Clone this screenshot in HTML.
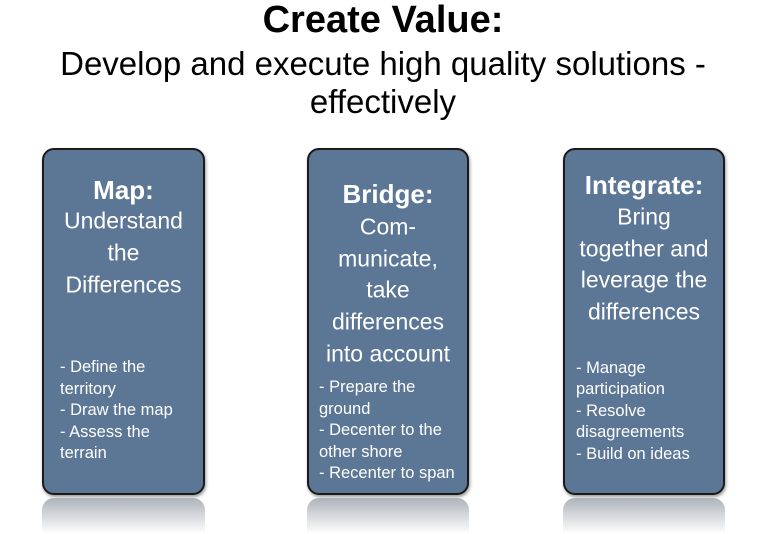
<!DOCTYPE html>
<html><head><style>
body{margin:0;width:766px;height:534px;background:#fff;position:relative;overflow:hidden;font-family:"Liberation Sans",sans-serif}
.t{position:absolute;left:0;width:766px;text-align:center;color:#000;white-space:nowrap}
.box{position:absolute;top:148px;height:347px;border:2px solid #1a1a1a;border-radius:12px;background:#5c7696;box-shadow:1px 2px 3px rgba(0,0,0,.4);box-sizing:border-box}
.ref{position:absolute;top:498px;height:36px;border-radius:12px 12px 0 0;background:linear-gradient(#aeb3ba,#fff)}
.l{position:absolute;color:#fff;white-space:nowrap;line-height:1}
.c{text-align:center;font-size:23px;transform:translateY(-50%)}
.h{font-weight:bold;font-size:26px}
.b{font-size:16.5px;transform:translateY(-50%)}
</style></head><body>
<div class="t" style="top:-1px;font-size:38px;font-weight:bold">Create Value:</div>
<div class="t" style="top:45px;font-size:33px">Develop and execute high quality solutions -</div>
<div class="t" style="top:83px;font-size:33px">effectively</div>

<div class="box" style="left:42px;width:163px"></div>
<div class="box" style="left:307px;width:162px"></div>
<div class="box" style="left:563px;width:162px"></div>
<div class="ref" style="left:42px;width:163px"></div>
<div class="ref" style="left:307px;width:162px"></div>
<div class="ref" style="left:563px;width:162px"></div>

<div class="l c h" style="left:42px;width:163px;top:190px">Map:</div>
<div class="l c" style="left:42px;width:163px;top:221px">Understand</div>
<div class="l c" style="left:42px;width:163px;top:253px">the</div>
<div class="l c" style="left:42px;width:163px;top:285px">Differences</div>
<div class="l b" style="left:60px;top:367px">- Define the</div>
<div class="l b" style="left:60px;top:389px">territory</div>
<div class="l b" style="left:60px;top:410px">- Draw the map</div>
<div class="l b" style="left:60px;top:432px">- Assess the</div>
<div class="l b" style="left:60px;top:453px">terrain</div>

<div class="l c h" style="left:307px;width:162px;top:194px">Bridge:</div>
<div class="l c" style="left:307px;width:162px;top:227px">Com-</div>
<div class="l c" style="left:307px;width:162px;top:259px">municate,</div>
<div class="l c" style="left:307px;width:162px;top:290px">take</div>
<div class="l c" style="left:307px;width:162px;top:322px">differences</div>
<div class="l c" style="left:307px;width:162px;top:354px">into account</div>
<div class="l b" style="left:319px;top:387px">- Prepare the</div>
<div class="l b" style="left:319px;top:409px">ground</div>
<div class="l b" style="left:319px;top:430px">- Decenter to the</div>
<div class="l b" style="left:319px;top:452px">other shore</div>
<div class="l b" style="left:319px;top:473px">- Recenter to span</div>

<div class="l c h" style="left:563px;width:162px;top:185px">Integrate:</div>
<div class="l c" style="left:563px;width:162px;top:217px">Bring</div>
<div class="l c" style="left:563px;width:162px;top:249px">together and</div>
<div class="l c" style="left:563px;width:162px;top:280px">leverage the</div>
<div class="l c" style="left:563px;width:162px;top:312px">differences</div>
<div class="l b" style="left:576px;top:368px">- Manage</div>
<div class="l b" style="left:576px;top:389px">participation</div>
<div class="l b" style="left:576px;top:411px">- Resolve</div>
<div class="l b" style="left:576px;top:432px">disagreements</div>
<div class="l b" style="left:576px;top:454px">- Build on ideas</div>
</body></html>
